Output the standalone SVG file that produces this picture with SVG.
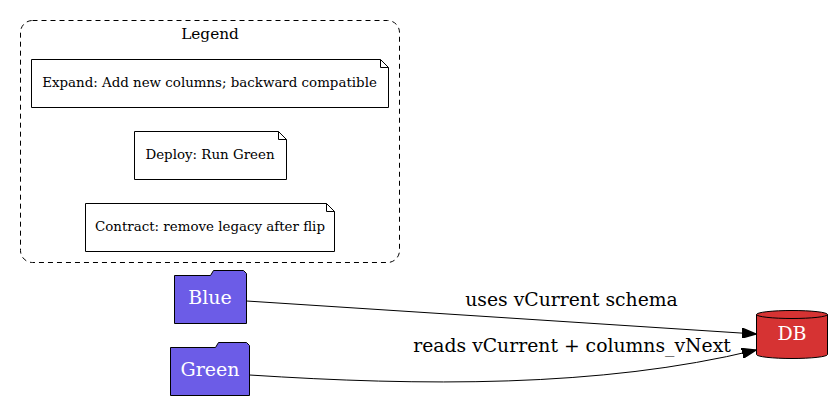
<svg xmlns="http://www.w3.org/2000/svg" width="838" height="406" viewBox="0 0 838 406">
<defs>
<style>
.t{font-family:"DejaVu Serif","Liberation Serif",serif;text-anchor:middle}
.note{fill:#fff;stroke:#000;stroke-width:1}
.folder{fill:#6c5ce7;stroke:#000;stroke-width:1}
.edge{fill:none;stroke:#000;stroke-width:1}
.nt{font-size:13.4px}
.nl{font-size:19px;fill:#fff}
.el{font-size:18.8px}
</style>
<marker id="arr" viewBox="0 0 10 7" refX="10" refY="3.5" markerWidth="14" markerHeight="10" markerUnits="userSpaceOnUse" orient="auto">
<path d="M0,0 L10,3.5 L0,7 Z" fill="#000" stroke="#000"/>
</marker>
</defs>
<rect width="838" height="406" fill="#fff"/>
<g id="legend">
<rect x="20.5" y="20.5" width="379" height="242" rx="12" fill="none" stroke="#000" stroke-dasharray="5,4"/>
<text class="t" x="210" y="39" font-size="15.3">Legend</text>
</g>
<g id="note-expand">
<path class="note" d="M31.5,59.5 H380.5 L388.5,67.5 V107.5 H31.5 Z M380.5,59.5 V67.5 H388.5"/>
<text class="t nt" x="209.5" y="87">Expand: Add new columns; backward compatible</text>
</g>
<g id="note-deploy">
<path class="note" d="M134.5,131.5 H278.5 L286.5,139.5 V179.5 H134.5 Z M278.5,131.5 V139.5 H286.5"/>
<text class="t nt" x="210" y="159">Deploy: Run Green</text>
</g>
<g id="note-contract">
<path class="note" d="M85.5,203.5 H326.5 L334.5,211.5 V251.5 H85.5 Z M326.5,203.5 V211.5 H334.5"/>
<text class="t nt" x="210" y="231">Contract: remove legacy after flip</text>
</g>
<g id="blue">
<path class="folder" d="M174.5,275.5 H210.5 L213.5,270.5 H243.5 L246.5,273.5 V323.5 H174.5 Z"/>
<text class="t nl" x="210" y="304">Blue</text>
</g>
<g id="green">
<path class="folder" d="M170.5,347.5 H215.5 L218.5,342.5 H246.5 L249.5,345.5 V395.5 H170.5 Z"/>
<text class="t nl" x="210" y="376">Green</text>
</g>
<g id="db">
<path d="M756.5,314.5 V354.5 A35.5,4 0 0 0 827.5,354.5 V314.5 A35.5,4 0 0 0 756.5,314.5 Z" fill="#d63333" stroke="#000"/>
<path d="M756.5,314.5 A35.5,4 0 0 0 827.5,314.5" fill="none" stroke="#000"/>
<text class="t nl" x="792" y="340">DB</text>
</g>
<g id="connectors">
<path class="edge" d="M246.5,301 L756,334" marker-end="url(#arr)"/>
<text class="t el" x="571.5" y="306">uses vCurrent schema</text>
<path class="edge" d="M249.5,375 C420,386 600,388 756,350" marker-end="url(#arr)"/>
<text class="t el" x="572" y="352">reads vCurrent + columns_vNext</text>
</g>
</svg>
